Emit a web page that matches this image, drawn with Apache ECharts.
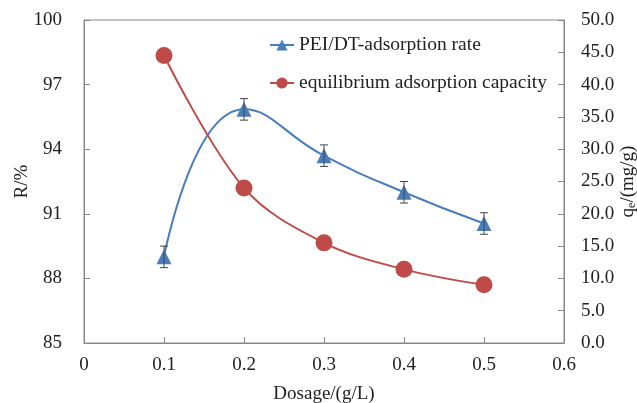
<!DOCTYPE html>
<html><head><meta charset="utf-8">
<script src="https://cdn.jsdelivr.net/npm/echarts@6/dist/echarts.min.js"></script>
<style>html,body{margin:0;padding:0;background:#fff}#c{width:637px;height:403px}</style>
</head><body><div id="c"></div>
<script>
var dosage = [0.1, 0.2, 0.3, 0.4, 0.5];
var rateR = [89.0, 95.85, 93.7, 92.0, 90.55];
var rateErr = [0.5, 0.5, 0.5, 0.5, 0.5];
var capacity = [44.5, 24.0, 15.5, 11.4, 9.0];
var nameRate = 'PEI/DT-adsorption rate';
var nameCap = 'equilibrium adsorption capacity';

var font = 'Liberation Serif';
var txt = {fontFamily: font, fontSize: 19, color: '#222'};
var nameTxt = {fontFamily: font, fontSize: 19, color: '#222'};
var chart = echarts.init(document.getElementById('c'));
var errData = dosage.map(function(x, i){ return [x, rateR[i] - rateErr[i], rateR[i] + rateErr[i]]; });
chart.setOption({
  animation: false,
  textStyle: {fontFamily: font},
  grid: {left: 84, right: 73, top: 20, bottom: 60, show: true, borderColor: '#888', borderWidth: 1, outerBoundsMode: 'none', containLabel: false},
  legend: {
    orient: 'vertical', left: 269, top: 35, padding: 0, itemGap: 18, itemWidth: 24, itemHeight: 14,
    textStyle: {fontFamily: font, fontSize: 19.5, color: '#222'},
    data: [nameRate, nameCap]
  },
  xAxis: {
    type: 'value', min: 0, max: 0.6, interval: 0.1,
    name: 'Dosage/(g/L)', nameLocation: 'middle', nameGap: 42, nameMoveOverlap: false,
    nameTextStyle: nameTxt,
    axisLine: {lineStyle: {color: '#888'}},
    axisTick: {inside: true, length: 6, lineStyle: {color: '#888'}},
    axisLabel: Object.assign({margin: 13, formatter: function(v){ return v === 0 ? '0' : String(Math.round(v*10)/10); }}, txt),
    splitLine: {show: false}
  },
  yAxis: [{
    type: 'value', min: 85, max: 100, interval: 3,
    name: 'R/%', nameLocation: 'middle', nameGap: 52, nameMoveOverlap: false,
    nameTextStyle: nameTxt,
    axisLine: {show: true, lineStyle: {color: '#888'}},
    axisTick: {show: true, inside: true, length: 6, lineStyle: {color: '#888'}},
    axisLabel: Object.assign({margin: 22}, txt),
    splitLine: {show: false}
  }, {
    type: 'value', min: 0, max: 50, interval: 5, position: 'right',
    name: '{m|q}{s|e}{m|/(mg/g)}', nameLocation: 'middle', nameGap: 54, nameRotate: 90, nameMoveOverlap: false,
    nameTextStyle: {fontFamily: font, color: '#222', rich: {m: {fontFamily: font, fontSize: 19, color: '#222'}, s: {fontFamily: font, fontSize: 12, color: '#222', verticalAlign: 'bottom', padding: [8,0,0,0]}}},
    axisLine: {show: true, lineStyle: {color: '#888'}},
    axisTick: {show: true, inside: true, length: 6, lineStyle: {color: '#888'}},
    axisLabel: Object.assign({margin: 17, formatter: function(v){ return v.toFixed(1); }}, txt),
    splitLine: {show: false}
  }],
  series: [{
    name: nameRate, type: 'line', yAxisIndex: 0, smooth: 0.5,
    data: dosage.map(function(x, i){ return [x, rateR[i]]; }),
    symbol: 'triangle', symbolSize: 15,
    lineStyle: {color: '#4A7EBB', width: 2},
    itemStyle: {color: '#4A7EBB'}, z: 3
  }, {
    name: nameCap, type: 'line', yAxisIndex: 1, smooth: 0.35,
    data: dosage.map(function(x, i){ return [x, capacity[i]]; }),
    symbol: 'circle', symbolSize: 17,
    lineStyle: {color: '#BE4B48', width: 2},
    itemStyle: {color: '#BE4B48'}, z: 3
  }, {
    type: 'custom', yAxisIndex: 0, z: 4,
    data: errData,
    renderItem: function(params, api){
      var lo = api.coord([api.value(0), api.value(1)]);
      var hi = api.coord([api.value(0), api.value(2)]);
      var w = 4;
      var st = {stroke: '#444', lineWidth: 1};
      return {type: 'group', children: [
        {type: 'line', shape: {x1: lo[0], y1: lo[1], x2: hi[0], y2: hi[1]}, style: st},
        {type: 'line', shape: {x1: lo[0]-w, y1: lo[1], x2: lo[0]+w, y2: lo[1]}, style: st},
        {type: 'line', shape: {x1: hi[0]-w, y1: hi[1], x2: hi[0]+w, y2: hi[1]}, style: st}
      ]};
    }
  }]
});
</script></body></html>
